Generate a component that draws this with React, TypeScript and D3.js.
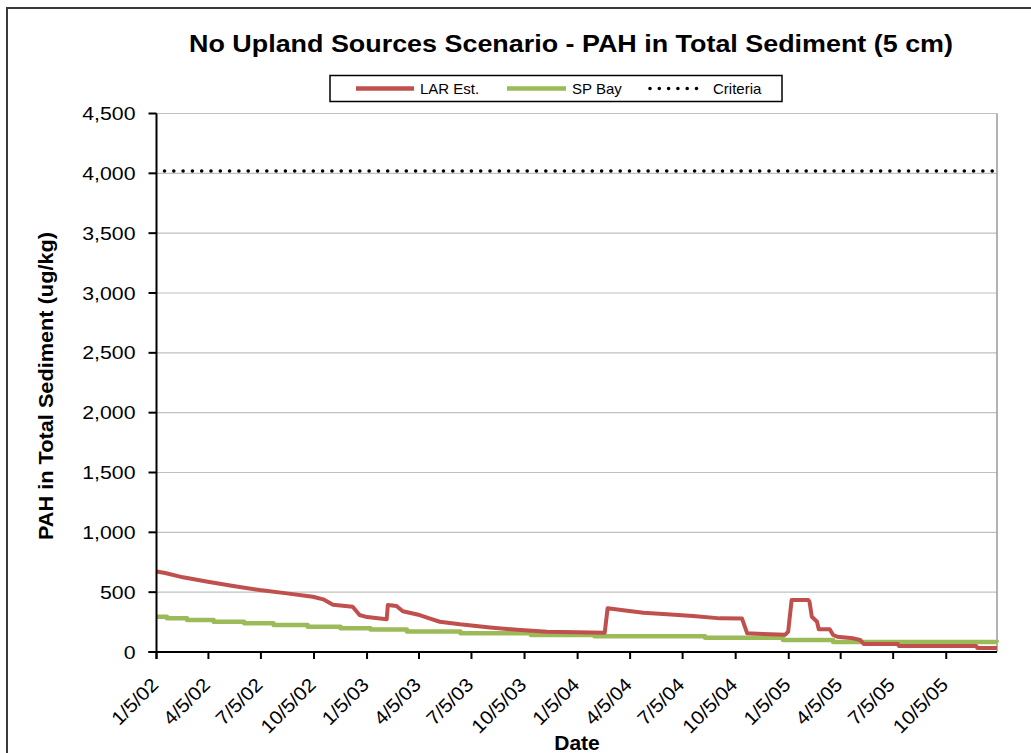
import React from "react";
import * as d3 from "d3";

const titleText = "No Upland Sources Scenario - PAH in Total Sediment (5 cm)";
const yTitle = "PAH in Total Sediment (ug/kg)";
const xTitle = "Date";

const xTickDates = [
  "2002-01-05", "2002-04-05", "2002-07-05", "2002-10-05",
  "2003-01-05", "2003-04-05", "2003-07-05", "2003-10-05",
  "2004-01-05", "2004-04-05", "2004-07-05", "2004-10-05",
  "2005-01-05", "2005-04-05", "2005-07-05", "2005-10-05",
];
const yTickValues = [0, 500, 1000, 1500, 2000, 2500, 3000, 3500, 4000, 4500];
const xDomain = ["2002-01-05", "2006-01-01"];

const larDates = [
  "2002-01-05", "2002-01-20", "2002-02-20", "2002-04-04", "2002-05-18", "2002-07-03",
  "2002-08-19", "2002-10-03", "2002-10-21", "2002-11-07", "2002-12-11", "2002-12-23",
  "2003-01-05", "2003-02-08", "2003-02-10", "2003-02-25", "2003-03-08", "2003-04-06",
  "2003-04-23", "2003-05-11", "2003-06-15", "2003-08-06", "2003-09-22", "2003-11-13",
  "2004-01-04", "2004-02-21", "2004-02-26", "2004-03-31", "2004-04-28", "2004-06-08",
  "2004-07-23", "2004-09-08", "2004-10-16", "2004-10-25", "2004-11-22", "2004-12-30",
  "2005-01-04", "2005-01-10", "2005-02-08", "2005-02-10", "2005-02-14", "2005-02-23",
  "2005-02-26", "2005-03-17", "2005-03-23", "2005-03-30", "2005-04-27", "2005-05-09",
  "2005-05-15", "2005-07-13", "2005-07-15", "2005-11-26", "2005-11-28", "2006-01-01",
];
const larValues = [
  672, 660, 624, 587, 551, 518,
  490, 462, 440, 395, 378, 309,
  292, 273, 392, 384, 340, 309,
  281, 253, 231, 205, 186, 170,
  165, 160, 365, 345, 328, 315,
  301, 281, 279, 156, 150, 145,
  170, 434, 434, 420, 295, 253,
  190, 190, 142, 128, 114, 100,
  67, 67, 50, 50, 33, 33,
];

const spDates = [
  "2002-01-05", "2002-01-23", "2002-02-27", "2002-04-14", "2002-06-06", "2002-07-27",
  "2002-09-24", "2002-11-20", "2003-01-11", "2003-03-15", "2003-06-16", "2003-10-16",
  "2004-02-03", "2004-08-13", "2004-12-26", "2005-03-23", "2006-01-01",
];
const spValues = [
  295, 281, 267, 253, 240, 225,
  211, 198, 188, 172, 156, 142,
  132, 119, 100, 84, 82,
];

const criteriaValue = 4020;

const seriesNames = ["LAR Est.", "SP Bay", "Criteria"];
const colors = { lar: "#C0504D", sp: "#9BBB59", crit: "#000000" };

const parse = d3.timeParse("%Y-%m-%d");

export default function App() {
  const W = 1031, H = 753;
  const left = 156.5, right = 997, top = 113.5, bottom = 652;

  const x = d3.scaleTime()
    .domain(xDomain.map((d) => parse(d) as Date))
    .range([left, right]);
  const y = d3.scaleLinear().domain([0, 4500]).range([bottom, top]);

  const lar = larDates.map((d, i) => ({ d: parse(d) as Date, v: larValues[i] }));
  const sp = spDates.map((d, i) => ({ d: parse(d) as Date, v: spValues[i] }));

  const lineLin = d3.line<{ d: Date; v: number }>()
    .x((p) => x(p.d))
    .y((p) => y(p.v))
    .curve(d3.curveLinear);
  const lineStep = d3.line<{ d: Date; v: number }>()
    .x((p) => x(p.d))
    .y((p) => y(p.v))
    .curve(d3.curveStepAfter);

  const fmtDate = d3.timeFormat("%-m/%-d/%y");
  const fmtNum = d3.format(",");
  const font = "Arial, 'Liberation Sans', sans-serif";

  const legY = 88.5;

  return (
    <div style={{ position: "absolute", left: 0, top: 0, width: W, height: H, background: "#fff" }}>
      <svg width={W} height={H} style={{ display: "block" }} fontFamily={font}>
        <rect x={0} y={0} width={W} height={H} fill="#fff" />
        {/* outer frame */}
        <rect x={7} y={8} width={W + 20} height={H + 20} fill="none" stroke="#3a3a3a" strokeWidth={2} />

        {/* title */}
        <text x={571} y={52} textAnchor="middle" fontSize={24.5} fontWeight="bold" fill="#000"
          textLength={764} lengthAdjust="spacingAndGlyphs">
          {titleText}
        </text>

        {/* gridlines */}
        {yTickValues.map((v) => (
          <line key={"g" + v} x1={left} x2={right} y1={y(v)} y2={y(v)} stroke="#c0c0c0" strokeWidth={1.2} />
        ))}
        {/* right border */}
        <line x1={right} x2={right} y1={top} y2={bottom} stroke="#9a9a9a" strokeWidth={1.5} />

        {/* criteria */}
        <line x1={x(parse(xDomain[0]) as Date) + 8} x2={right} y1={y(criteriaValue)} y2={y(criteriaValue)}
          stroke={colors.crit} strokeWidth={3.6} strokeDasharray="0 9.3" strokeLinecap="round" />

        {/* series */}
        <path d={lineStep(sp) || ""} fill="none" stroke={colors.sp} strokeWidth={4.5} strokeLinejoin="round" />
        <path d={lineLin(lar) || ""} fill="none" stroke={colors.lar} strokeWidth={4} strokeLinejoin="round" />

        {/* y axis */}
        <line x1={left} x2={left} y1={top} y2={bottom + 7} stroke="#000" strokeWidth={2} />
        {yTickValues.map((v) => (
          <g key={"yt" + v}>
            <line x1={left - 8} x2={left} y1={y(v)} y2={y(v)} stroke="#000" strokeWidth={2} />
            <text transform={`translate(${left - 21},${y(v)}) scale(1.12,1)`} dy="0.35em" textAnchor="end" fontSize={19} fill="#000">
              {fmtNum(v)}
            </text>
          </g>
        ))}

        {/* x axis */}
        <line x1={left - 8} x2={right} y1={bottom} y2={bottom} stroke="#000" strokeWidth={2} />
        {xTickDates.map((s) => {
          const d = parse(s) as Date;
          const px = x(d);
          return (
            <g key={"xt" + s}>
              <line x1={px} x2={px} y1={bottom} y2={bottom + 7} stroke="#000" strokeWidth={2} />
              <text transform={`translate(${px + 3},${686}) rotate(-45) scale(1.08,1)`} textAnchor="end" fontSize={19} fill="#000">
                {fmtDate(d)}
              </text>
            </g>
          );
        })}

        {/* axis titles */}
        <text transform={`translate(53,386) rotate(-90)`} textAnchor="middle" fontSize={21} fontWeight="bold" fill="#000"
          textLength={308} lengthAdjust="spacingAndGlyphs">
          {yTitle}
        </text>
        <text x={577} y={750} textAnchor="middle" fontSize={21} fontWeight="bold" fill="#000">
          {xTitle}
        </text>

        {/* legend */}
        <rect x={330} y={75.5} width={452} height={26} fill="#fff" stroke="#000" strokeWidth={1.5} />
        <line x1={356} x2={414} y1={legY} y2={legY} stroke={colors.lar} strokeWidth={4.5} />
        <text x={420} y={legY} dy="0.35em" fontSize={15} fill="#000">{seriesNames[0]}</text>
        <line x1={507} x2={566} y1={legY} y2={legY} stroke={colors.sp} strokeWidth={4.5} />
        <text x={572} y={legY} dy="0.35em" fontSize={15} fill="#000">{seriesNames[1]}</text>
        <line x1={650} x2={702} y1={legY} y2={legY} stroke={colors.crit} strokeWidth={3.6}
          strokeDasharray="0 9.3" strokeLinecap="round" />
        <text x={713} y={legY} dy="0.35em" fontSize={15} fill="#000">{seriesNames[2]}</text>
      </svg>
    </div>
  );
}
